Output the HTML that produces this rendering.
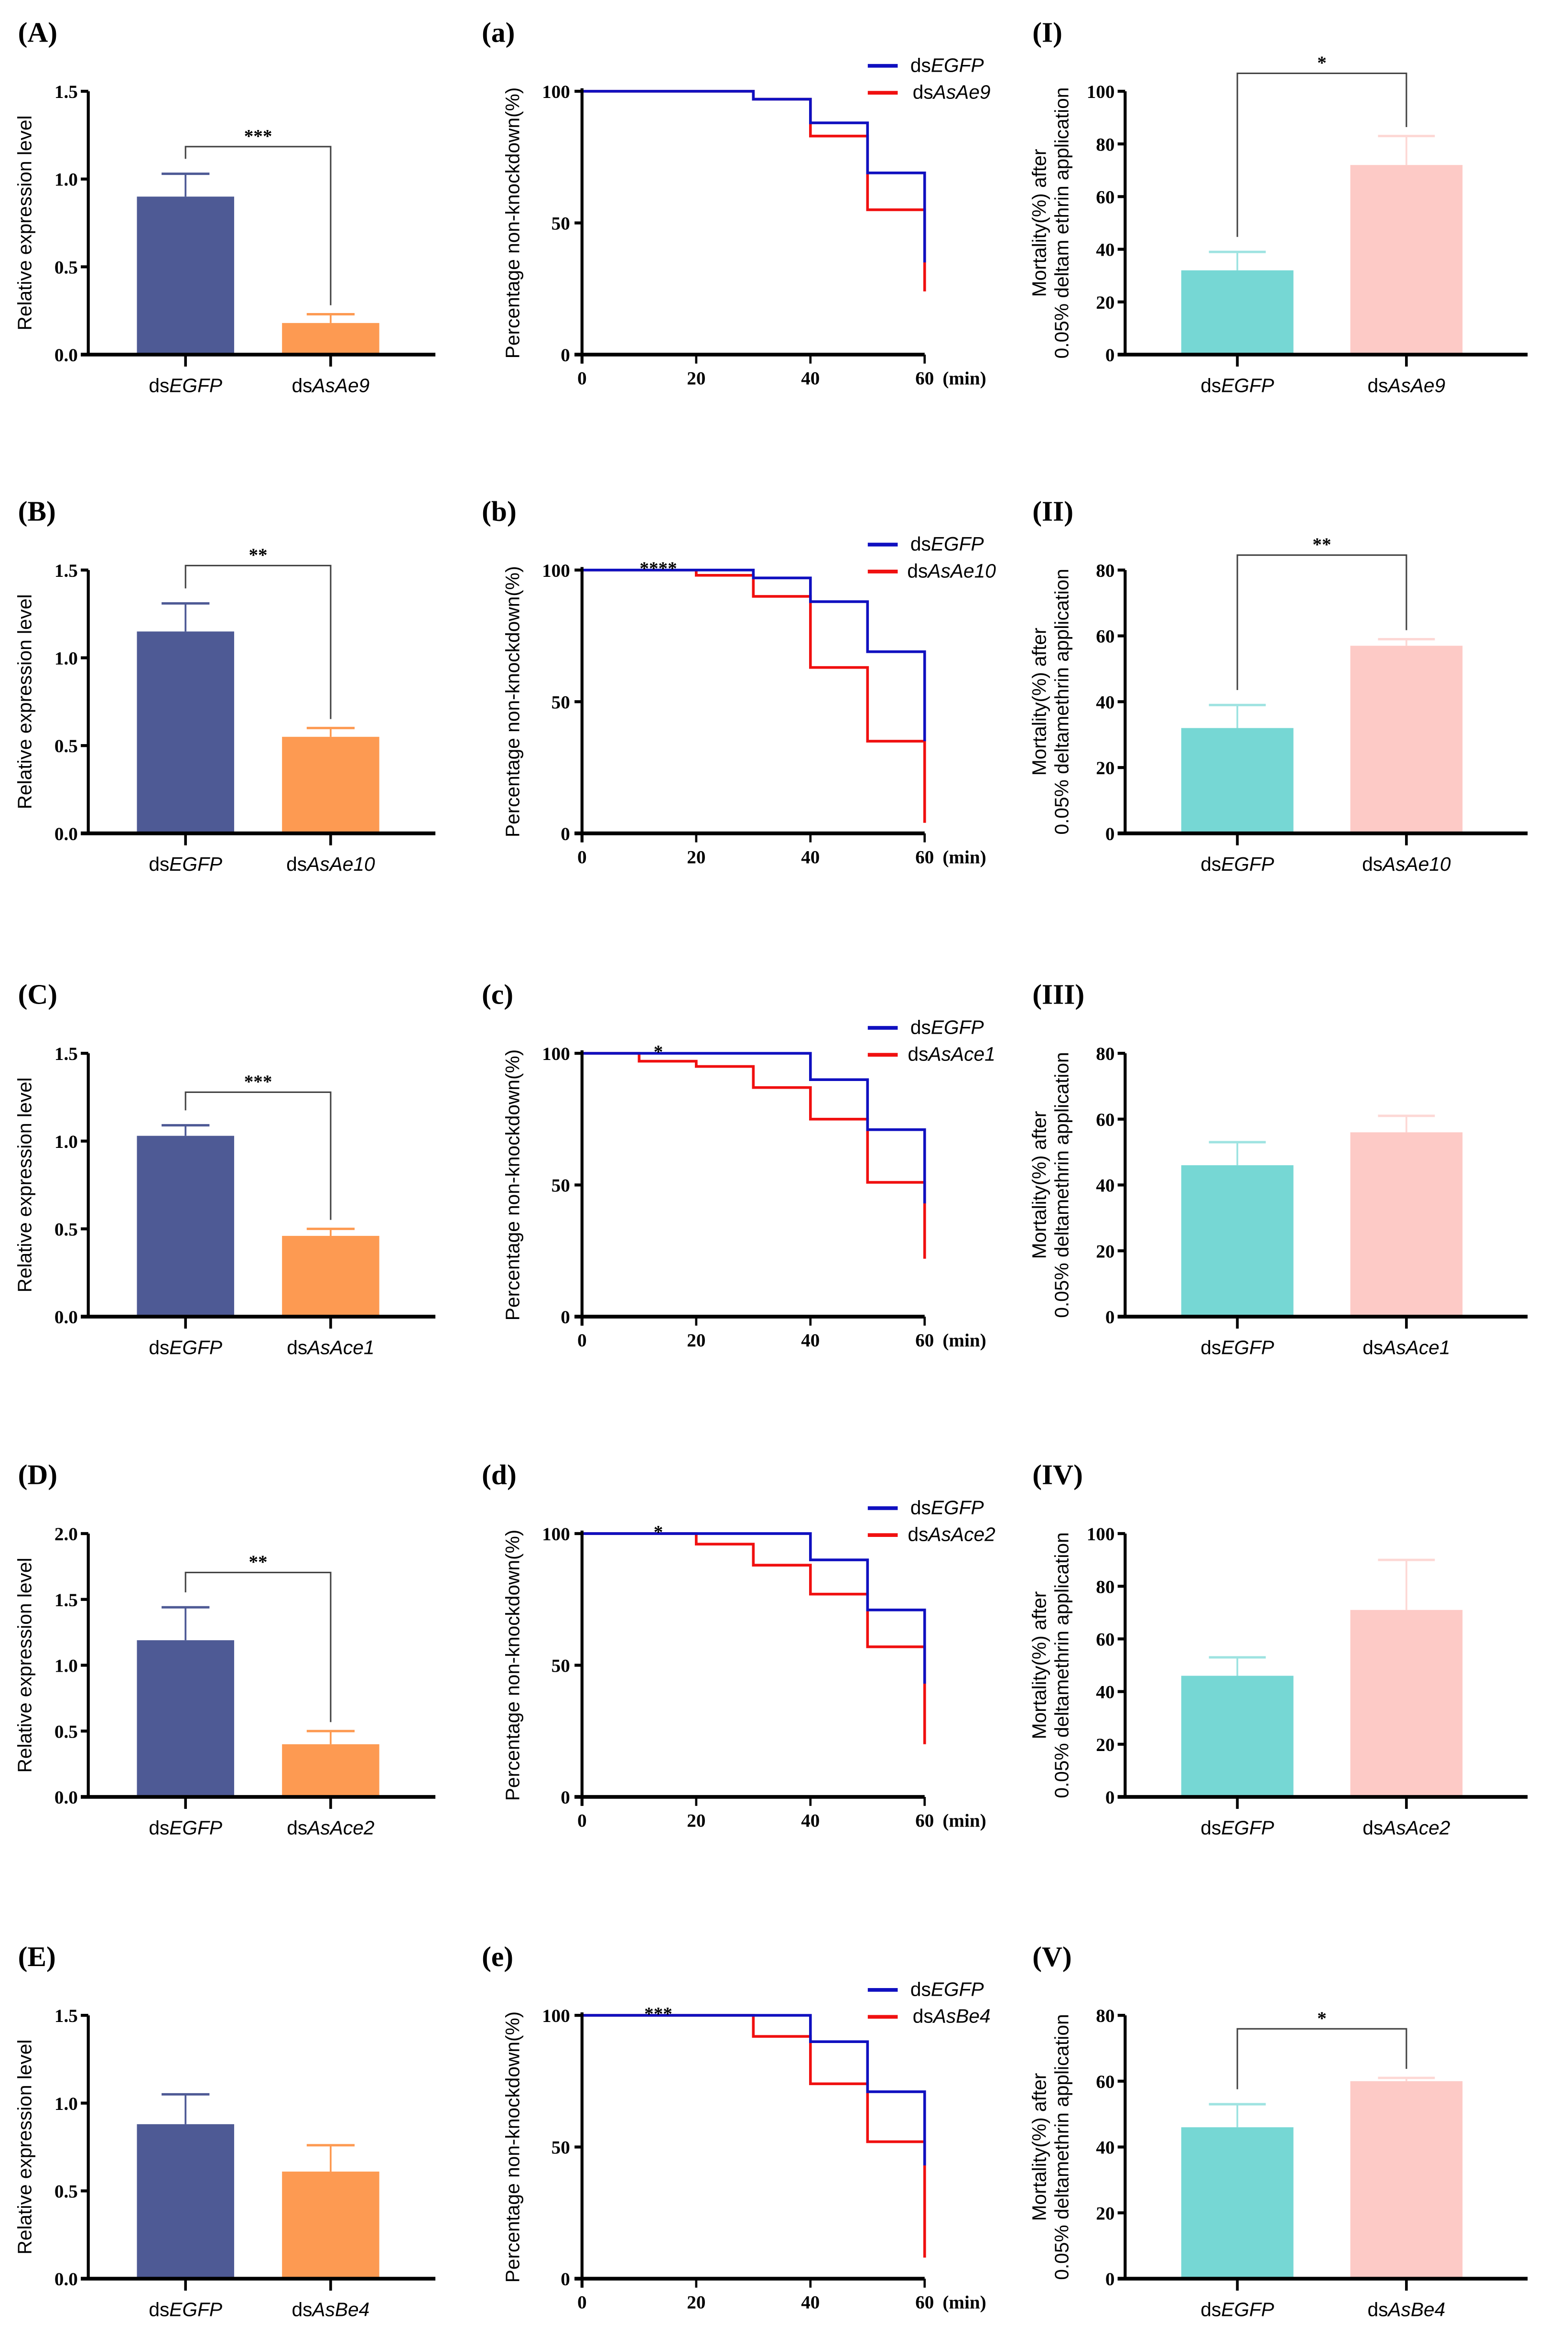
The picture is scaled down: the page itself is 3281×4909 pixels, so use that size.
<!DOCTYPE html>
<html><head><meta charset="utf-8"><style>
html,body{margin:0;padding:0;background:#fff}
svg{display:block}
.tk{font-family:"Liberation Serif",serif;font-weight:bold;font-size:12.5px}
.ax{font-family:"Liberation Sans",sans-serif;font-size:13px}
.cat{font-family:"Liberation Sans",sans-serif;font-size:13px}
.pl{font-family:"Liberation Serif",serif;font-weight:bold;font-size:19px}
</style></head><body>
<svg id="fig" width="3281" height="4909" viewBox="0 0 1048 1568" xmlns="http://www.w3.org/2000/svg"></svg>
<script>
const rowOffsets=[0,320,643,964,1286];
const barLabels=["(A)","(B)","(C)","(D)","(E)"];
const survLabels=["(a)","(b)","(c)","(d)","(e)"];
const mortLabels=["(I)","(II)","(III)","(IV)","(V)"];
const genes=["AsAe9","AsAe10","AsAce1","AsAce2","AsBe4"];
const exprMax=[1.5,1.5,1.5,2.0,1.5];
const exprEGFP=[0.9,1.15,1.03,1.19,0.88];
const exprEGFPErr=[1.03,1.31,1.09,1.44,1.05];
const exprGene=[0.18,0.55,0.46,0.4,0.61];
const exprGeneErr=[0.23,0.6,0.5,0.5,0.76];
const exprSig=["***","**","***","**",""];
const exprSigY=[98,58,87,87,0];
const survTimes=[0,10,20,30,40,50,60];
const survEGFP=[
 [100,100,100,97,88,69,35],
 [100,100,100,97,88,69,35],
 [100,100,100,100,90,71,43],
 [100,100,100,100,90,71,43],
 [100,100,100,100,90,71,43]];
const survGene=[
 [100,100,100,97,83,55,24],
 [100,100,98,90,63,35,4],
 [100,97,95,87,75,51,22],
 [100,100,96,88,77,57,20],
 [100,100,100,92,74,52,8]];
const survSig=["","****","*","*","***"];
const mortMax=[100,80,80,100,80];
const mortEGFP=[32,32,46,46,46];
const mortEGFPErr=[39,39,53,53,53];
const mortGene=[72,57,56,71,60];
const mortGeneErr=[83,59,61,90,61];
const mortSig=["*","**","","","*"];
const mortSigY=[49,51,0,0,70];
const mortLabel2=["0.05% deltam ethrin application","0.05% deltamethrin application","0.05% deltamethrin application","0.05% deltamethrin application","0.05% deltamethrin application"];

const svg=document.getElementById('fig');
const NS="http://www.w3.org/2000/svg";
function mk(tag,attrs,parent,name,text){
  const e=document.createElementNS(NS,tag);
  for(const k in attrs)e.setAttribute(k,attrs[k]);
  
  
  if(text!==undefined)e.textContent=text;
  (parent||svg).appendChild(e);return e;
}
function catLabel(g,x,y,gene,name){
  const t=mk('text',{x:x,y:y,'text-anchor':'middle',class:'cat'},g,name);
  const a=document.createElementNS(NS,'tspan');a.textContent='ds';t.appendChild(a);
  const b=document.createElementNS(NS,'tspan');b.setAttribute('font-style','italic');b.textContent=gene;t.appendChild(b);
}
function barPanel(g,opt){
  const {x0,x1,top,bot,max,step,vals,errs,cols,ecols,cents,bw,cap,cats,sig,sigY,ylab,ylab2,labx,fmt}=opt;
  const Y=v=>bot-(v/max)*(bot-top);
  vals.forEach((v,i)=>{
    mk('line',{x1:cents[i],x2:cents[i],y1:Y(v),y2:Y(errs[i]),stroke:ecols[i],'stroke-width':1.2},g,'error-bar-'+i);
    mk('line',{x1:cents[i]-cap,x2:cents[i]+cap,y1:Y(errs[i]),y2:Y(errs[i]),stroke:ecols[i],'stroke-width':1.6},g,'error-cap-'+i);
    mk('rect',{x:cents[i]-bw/2,y:Y(v),width:bw,height:bot-Y(v),fill:cols[i]},g,'bar-'+i);
  });
  mk('line',{x1:x0,x2:x0,y1:top,y2:bot+1,stroke:'#000','stroke-width':2}, g,'y-axis');
  mk('line',{x1:x0-5,x2:x1,y1:bot,y2:bot,stroke:'#000','stroke-width':2.5},g,'x-axis');
  for(let v=0;v<=max+1e-9;v+=step){
    mk('line',{x1:x0-5,x2:x0,y1:Y(v),y2:Y(v),stroke:'#000','stroke-width':2},g,'y-tick');
    mk('text',{x:x0-7,y:Y(v)+4.5,'text-anchor':'end',class:'tk'},g,'y-tick-label',fmt(v));
  }
  cents.forEach((c,i)=>{
    mk('line',{x1:c,x2:c,y1:bot,y2:bot+8,stroke:'#000','stroke-width':1.8},g,'x-tick');
    catLabel(g,c,bot+25,cats[i],'x-category-label');
  });
  if(sig){
    const l0=Math.max(sigY+4,Y(errs[0])-10), l1=Math.max(sigY+4,Y(errs[1])-6);
    mk('polyline',{points:`${cents[0]},${l0} ${cents[0]},${sigY} ${cents[1]},${sigY} ${cents[1]},${l1}`,fill:'none',stroke:'#444','stroke-width':1},g,'significance-bracket');
    mk('text',{x:(cents[0]+cents[1])/2,y:sigY-3,'text-anchor':'middle',class:'tk','font-size':'11'},g,'significance-stars',sig);
  }
  if(ylab2){
    mk('text',{transform:`translate(${labx},${(top+bot)/2}) rotate(-90)`,'text-anchor':'middle',class:'ax','font-size':'11.5'},g,'y-axis-title',ylab);
    mk('text',{transform:`translate(${labx+15},${(top+bot)/2}) rotate(-90)`,'text-anchor':'middle',class:'ax','font-size':'11.5'},g,'y-axis-title-2',ylab2);
  } else {
    mk('text',{transform:`translate(${labx},${(top+bot)/2}) rotate(-90)`,'text-anchor':'middle',class:'ax'},g,'y-axis-title',ylab);
  }
}
rowOffsets.forEach((dy,r)=>{
  const top=61+dy,bot=237+dy;
  const gA=mk('g',{},svg,'expression-panel-'+r);
  mk('text',{x:12,y:28+dy,class:'pl'},gA,'panel-label',barLabels[r]);
  barPanel(gA,{x0:59,x1:291,top,bot,max:exprMax[r],step:0.5,vals:[exprEGFP[r],exprGene[r]],errs:[exprEGFPErr[r],exprGeneErr[r]],
    cols:['#4e5a95','#fd9a52'],ecols:['#4e5a95','#fd9a52'],cents:[124,221],bw:65,cap:16,cats:['EGFP',genes[r]],sig:exprSig[r],sigY:exprSigY[r]+dy,
    ylab:'Relative expression level',labx:21,fmt:v=>v.toFixed(1)});
  const gS=mk('g',{},svg,'survival-panel-'+r);
  mk('text',{x:322,y:28+dy,class:'pl'},gS,'panel-label',survLabels[r]);
  const X=t=>389+t/60*229, Y=v=>bot-v/100*(bot-top);
  function curve(arr,col,name){
    let d=`M${X(0)},${Y(arr[0])}`;
    for(let i=1;i<survTimes.length;i++){
      d+=` H${X(survTimes[i])}`;
      if(i<survTimes.length-1) d+=` V${Y(arr[i])}`;
    }
    d+=` V${Y(arr[arr.length-1])}`;
    mk('path',{d:d,fill:'none',stroke:col,'stroke-width':1.8},gS,name);
  }
  curve(survGene[r],'#f01010','survival-curve-'+genes[r]);
  curve(survEGFP[r],'#1010c0','survival-curve-EGFP');
  mk('line',{x1:389,x2:389,y1:top-2,y2:bot+6,stroke:'#000','stroke-width':2},gS,'y-axis');
  mk('line',{x1:384,x2:618,y1:bot,y2:bot,stroke:'#000','stroke-width':2.5},gS,'x-axis');
  [0,50,100].forEach(v=>{
    mk('line',{x1:384,x2:389,y1:Y(v),y2:Y(v),stroke:'#000','stroke-width':2},gS,'y-tick');
    mk('text',{x:381,y:Y(v)+4.5,'text-anchor':'end',class:'tk'},gS,'y-tick-label',String(v));
  });
  [0,20,40,60].forEach(t=>{
    mk('line',{x1:X(t),x2:X(t),y1:bot,y2:bot+6,stroke:'#000','stroke-width':1.5},gS,'x-tick');
    mk('text',{x:X(t),y:bot+20,'text-anchor':'middle',class:'tk'},gS,'x-tick-label',String(t));
  });
  mk('text',{x:630,y:bot+20,class:'tk'},gS,'x-axis-unit','(min)');
  mk('text',{transform:`translate(347,${(top+bot)/2}) rotate(-90)`,'text-anchor':'middle',class:'ax','font-size':'12.5'},gS,'y-axis-title','Percentage non-knockdown(%)');
  mk('line',{x1:580,x2:600,y1:44+dy,y2:44+dy,stroke:'#1010c0','stroke-width':2.5},gS,'legend-swatch-EGFP');
  catLabel(gS,633,48+dy,'EGFP','legend-entry-EGFP');
  mk('line',{x1:580,x2:600,y1:62+dy,y2:62+dy,stroke:'#f01010','stroke-width':2.5},gS,'legend-swatch-gene');
  catLabel(gS,636,66+dy,genes[r],'legend-entry-gene');
  if(survSig[r]) mk('text',{x:440,y:top+3,'text-anchor':'middle',class:'tk'},gS,'significance-stars',survSig[r]);
  const gM=mk('g',{},svg,'mortality-panel-'+r);
  mk('text',{x:690,y:28+dy,class:'pl'},gM,'panel-label',mortLabels[r]);
  barPanel(gM,{x0:752,x1:1021,top,bot,max:mortMax[r],step:20,vals:[mortEGFP[r],mortGene[r]],errs:[mortEGFPErr[r],mortGeneErr[r]],
    cols:['#76d7d4','#fdcac6'],ecols:['#9ee3e1','#fdd8d5'],cents:[827,940],bw:75,cap:19,cats:['EGFP',genes[r]],sig:mortSig[r],sigY:mortSigY[r]+dy,
    ylab:'Mortality(%) after',ylab2:mortLabel2[r],labx:699,fmt:v=>String(v)});
});
</script>
</body></html>
